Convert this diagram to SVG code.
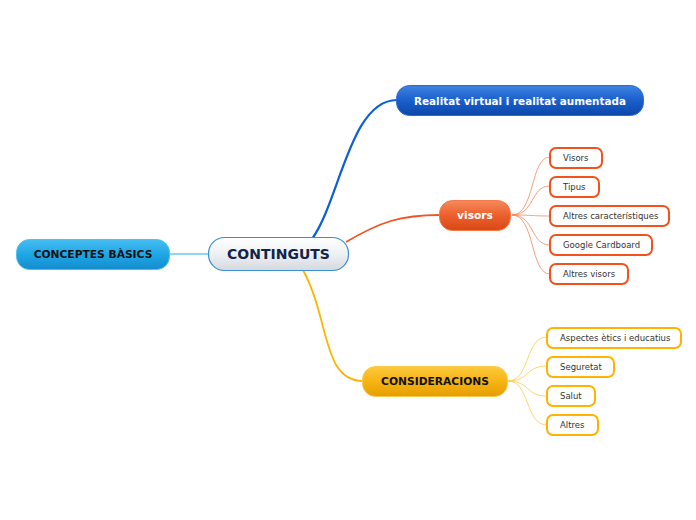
<svg xmlns="http://www.w3.org/2000/svg" width="696" height="520" viewBox="0 0 696 520">
<defs>
<linearGradient id="gCentral" x1="0" y1="0" x2="0" y2="1"><stop offset="0" stop-color="#ffffff"/><stop offset="0.5" stop-color="#eef1f4"/><stop offset="1" stop-color="#d4d9de"/></linearGradient>
<linearGradient id="gCyan" x1="0" y1="0" x2="0" y2="1"><stop offset="0" stop-color="#45bdf0"/><stop offset="0.5" stop-color="#1fa6e6"/><stop offset="1" stop-color="#138ccc"/></linearGradient>
<linearGradient id="gBlue" x1="0" y1="0" x2="0" y2="1"><stop offset="0" stop-color="#3f83e0"/><stop offset="0.5" stop-color="#1a5fcc"/><stop offset="1" stop-color="#0d47a8"/></linearGradient>
<linearGradient id="gOrange" x1="0" y1="0" x2="0" y2="1"><stop offset="0" stop-color="#f58a5c"/><stop offset="0.5" stop-color="#ec5f2c"/><stop offset="1" stop-color="#d84815"/></linearGradient>
<linearGradient id="gYellow" x1="0" y1="0" x2="0" y2="1"><stop offset="0" stop-color="#fcc93e"/><stop offset="0.5" stop-color="#f7b413"/><stop offset="1" stop-color="#e49d00"/></linearGradient>
</defs>
<style>
text{font-family:"DejaVu Sans","Liberation Sans",sans-serif;dominant-baseline:central}
.main{font-size:10.7px;font-weight:bold;text-anchor:middle}
.sub{font-size:8.5px;fill:#333333;text-anchor:start}
.subO{fill:#ffffff;stroke:#f4511e;stroke-width:2}
.subY{fill:#ffffff;stroke:#ffb300;stroke-width:2}
.cO{fill:none;stroke:#f6875a;stroke-width:0.8}
.cY{fill:none;stroke:#ffc94d;stroke-width:0.8}
</style>
<rect width="696" height="520" fill="#ffffff"/>
<g id="connectors">
<path d="M169 254 L209 254" fill="none" stroke="#29a9e8" stroke-width="1"/>
<path d="M312 239 C340 200 350 100 397 100" fill="none" stroke="#0d5fd6" stroke-width="2.2"/>
<path d="M346 242 C380 222 400 215 440 215" fill="none" stroke="#f4511e" stroke-width="1.8"/>
<path d="M303 270 C330 320 322 381 363 381" fill="none" stroke="#ffb300" stroke-width="1.8"/>
<path class="cO" d="M512 215 C535 215 530 157 550 157"/>
<path class="cO" d="M512 215 C535 215 530 186 550 186"/>
<path class="cO" d="M512 215 C535 215 530 216 550 216"/>
<path class="cO" d="M512 215 C535 215 530 245 550 245"/>
<path class="cO" d="M512 215 C535 215 530 274 550 274"/>
<path class="cY" d="M508 381 C530 381 525 337 547 337"/>
<path class="cY" d="M508 381 C530 381 525 366 547 366"/>
<path class="cY" d="M508 381 C530 381 525 396 547 396"/>
<path class="cY" d="M508 381 C530 381 525 425 547 425"/>
</g>
<g id="central">
<rect x="208.5" y="237.5" width="140" height="33" rx="16" fill="url(#gCentral)" stroke="#3a8fd0" stroke-width="1.2"/>
<text x="278.5" y="254" style="font-size:14px;font-weight:bold;fill:#13234a;text-anchor:middle">CONTINGUTS</text>
</g>
<g id="conceptes">
<rect x="16.5" y="239.5" width="153" height="30" rx="13" fill="url(#gCyan)" stroke="#4cc0f0" stroke-width="1"/>
<text class="main" x="93" y="254.5" fill="#111111">CONCEPTES BÀSICS</text>
</g>
<g id="realitat">
<rect x="396.5" y="85.5" width="247" height="30" rx="13" fill="url(#gBlue)" stroke="#2a6ad8" stroke-width="1"/>
<text class="main" x="520" y="100.5" fill="#ffffff" style="font-size:10.4px">Realitat virtual i realitat aumentada</text>
</g>
<g id="visors">
<rect x="439.5" y="200.5" width="71" height="30" rx="13" fill="url(#gOrange)" stroke="#f4784a" stroke-width="1"/>
<text class="main" x="475" y="215.5" fill="#ffffff">visors</text>
</g>
<g id="consideracions">
<rect x="362.5" y="366.5" width="145" height="30" rx="13" fill="url(#gYellow)" stroke="#fcc94a" stroke-width="1"/>
<text class="main" x="435" y="381.5" fill="#111111">CONSIDERACIONS</text>
</g>
<g id="v1"><rect class="subO" x="550" y="148" width="52" height="20" rx="6"/><text class="sub" x="563" y="158">Visors</text></g>
<g id="v2"><rect class="subO" x="550" y="177" width="49" height="20" rx="6"/><text class="sub" x="563" y="187">Tipus</text></g>
<g id="v3"><rect class="subO" x="550" y="206" width="119" height="20" rx="6"/><text class="sub" x="563" y="216">Altres característiques</text></g>
<g id="v4"><rect class="subO" x="550" y="235" width="102" height="20" rx="6"/><text class="sub" x="563" y="245">Google Cardboard</text></g>
<g id="v5"><rect class="subO" x="550" y="264" width="78" height="20" rx="6"/><text class="sub" x="563" y="274">Altres visors</text></g>
<g id="c1"><rect class="subY" x="547" y="328" width="134" height="20" rx="6"/><text class="sub" x="560" y="338">Aspectes ètics i educatius</text></g>
<g id="c2"><rect class="subY" x="547" y="357" width="67" height="20" rx="6"/><text class="sub" x="560" y="367">Seguretat</text></g>
<g id="c3"><rect class="subY" x="547" y="386" width="48" height="20" rx="6"/><text class="sub" x="560" y="396">Salut</text></g>
<g id="c4"><rect class="subY" x="547" y="415" width="51" height="20" rx="6"/><text class="sub" x="560" y="425">Altres</text></g>
</svg>
